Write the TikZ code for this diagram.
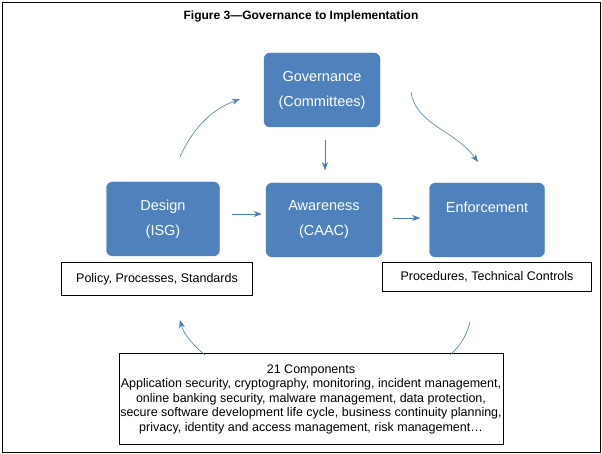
\documentclass[tikz,border=0pt]{standalone}
\usepackage{fontspec}
\setmainfont{Liberation Sans}
\usetikzlibrary{positioning, arrows.meta}
\definecolor{boxblue}{HTML}{4F81BD}
\definecolor{arrowblue}{HTML}{4A7EBB}
\tikzset{
  stage/.style={draw=boxblue, fill=boxblue, rounded corners=6pt, text=white, minimum width=116pt, minimum height=74pt, align=center, font=\fontsize{14.5}{25}\selectfont},
  note/.style={draw, fill=white, align=center, inner sep=1pt, font=\fontsize{12.5}{14.5}\selectfont},
  flow/.style={draw=arrowblue, semithick, -{Stealth[length=8pt]}}
}
\begin{document}
\begin{tikzpicture}[x=1pt,y=-1pt]
\useasboundingbox (0,0) rectangle (602,454);
% frame and title
\draw (2,2) rectangle (600,452);
\node[font=\bfseries\fontsize{12}{14}\selectfont] (title) at (301,16) {Figure 3—Governance to Implementation};

% stages
\node[stage] (gov) at (322,90) {Governance\\(Committees)};
\node[stage, minimum width=113pt] (design) at (163,219) {Design\\(ISG)};
\node[stage] (aware) at (324,220) {Awareness\\(CAAC)};
\node[stage, minimum width=115pt] (enf) at (487,220) {Enforcement\\\mbox{}};

% notes
\node[note, minimum width=191pt, minimum height=33pt] (policy) at (157,279) {Policy, Processes, Standards};
\node[note, minimum width=209pt, minimum height=29pt] (proc) at (487,277) {Procedures, Technical Controls};
\node[note, minimum width=377pt, minimum height=91pt] (comp) at (311,399) {21 Components\\
Application security, cryptography, monitoring, incident management,\\
online banking security, malware management, data protection,\\
secure software development life cycle, business continuity planning,\\
privacy, identity and access management, risk management\dots};

% arrows
\draw[flow] (design.east) ++(12,-5) coordinate (d1) -- ++(30,0) coordinate (d2);
\draw[flow] (aware.east) ++(11,-2) coordinate (a1) -- ++(27,0) coordinate (a2);
\draw[flow] (gov.south) ++(3,13) coordinate (g1) -- ++(0,30) coordinate (g2);
\draw[flow] (180,157) coordinate (c1) .. controls (192,130) and (210,110) .. (240,99) coordinate (c2);
\draw[flow] (411,92) coordinate (c3) .. controls (416,125) and (455,130) .. (478,162) coordinate (c4);
\draw[draw=arrowblue, semithick] (470,322) coordinate (c5) .. controls (466,338) and (458,348) .. (450,355) coordinate (c6);
\draw[flow] (205,355) coordinate (c7) .. controls (194,346) and (184,335) .. (180,320) coordinate (c8);
\end{tikzpicture}
\end{document}
